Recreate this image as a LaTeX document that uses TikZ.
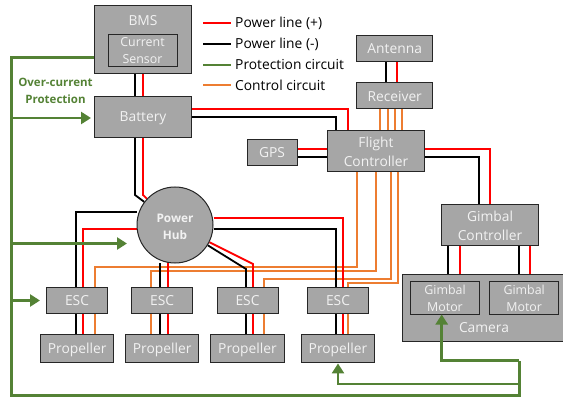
\documentclass[tikz,border=0pt]{standalone}
\usepackage{fontspec}
\setmainfont{Open Sans}
\usetikzlibrary{arrows.meta,backgrounds}
\definecolor{boxgray}{HTML}{A6A6A6}
\definecolor{boxedge}{HTML}{262626}
\definecolor{boxtext}{HTML}{F2F2F2}
\definecolor{pgreen}{HTML}{548235}
\definecolor{corange}{HTML}{ED7D31}
\tikzset{
  box/.style={draw=boxedge,fill=boxgray,line width=1pt,inner sep=0pt,align=center,text=boxtext,font=\fontsize{13.8}{19}\selectfont},
  smallbox/.style={box,font=\fontsize{12.4}{17}\selectfont},
  propbox/.style={box,minimum width=73.5pt,minimum height=28.5pt,text depth=0pt},
  escbox/.style={box,minimum height=26.5pt},
  posline/.style={draw=red,line width=1.8pt},
  negline/.style={draw=black,line width=1.8pt},
  ctlline/.style={draw=corange,line width=1.8pt},
  protline/.style={draw=pgreen,line width=2.5pt},
  protarrow/.style={draw=pgreen,line width=2.7pt,-{Triangle[length=10pt,width=12pt]}},
  legendtext/.style={anchor=west,inner sep=0pt,font=\fontsize{13.8}{14}\selectfont,text=black},
}
\begin{document}
\begin{tikzpicture}[x=1pt,y=-1pt,line join=miter]
\useasboundingbox (0,0) rectangle (563,401);
% boxes
\node[box,minimum width=97pt,minimum height=68pt] (bms) at (143,40) {};
\node[box,anchor=center,draw=none,fill=none] (bmst) at (143,21) {BMS};
\node[smallbox,minimum width=69pt,minimum height=32pt] (sensor) at (142.5,50.5) {Current\\Sensor};
\node[box,minimum width=97pt,minimum height=40.5pt,text depth=0pt] (battery) at (143,116.8) {Battery};
\node[box,minimum width=76pt,minimum height=26pt] (antenna) at (394.7,48.5) {Antenna};
\node[box,minimum width=76pt,minimum height=26pt,text depth=0pt] (receiver) at (394.7,96) {Receiver};
\node[box,minimum width=96.5pt,minimum height=41pt] (fc) at (376,151.5) {Flight\\Controller};
\node[box,minimum width=50pt,minimum height=26pt] (gps) at (272,153) {GPS};
\node[box,minimum width=96.5pt,minimum height=41pt] (gc) at (490,225.5) {Gimbal\\Controller};
\node[box,minimum width=162pt,minimum height=66pt] (camera) at (483.5,308) {};
\node[box,draw=none,fill=none] (camt) at (484,328) {Camera};
\node[smallbox,minimum width=69.4pt,minimum height=32pt] (gm1) at (445,298) {Gimbal\\Motor};
\node[smallbox,minimum width=69pt,minimum height=32pt] (gm2) at (524.2,298) {Gimbal\\Motor};
\node[box,circle,minimum size=76pt,font=\fontsize{11.8}{17}\selectfont\bfseries] (hub) at (175,225) {\rule{0pt}{12pt}Power\\Hub};
\node[escbox,minimum width=61pt] (esc1) at (77,300.7) {ESC};
\node[escbox,minimum width=60.5pt] (esc2) at (162.2,300.7) {ESC};
\node[escbox,minimum width=61pt] (esc3) at (247.5,300.7) {ESC};
\node[escbox,minimum width=61.4pt] (esc4) at (338,300.7) {ESC};
\node[propbox] (p1) at (77.2,348.7) {Propeller};
\node[propbox] (p2) at (162.2,348.7) {Propeller};
\node[propbox] (p3) at (247.5,348.7) {Propeller};
\node[propbox] (p4) at (338,348.7) {Propeller};
% legend
\coordinate (l1a) at (203,23); \coordinate (l1b) at (231,23);
\coordinate (l2a) at (203,44); \coordinate (l2b) at (231,44);
\coordinate (l3a) at (203,65); \coordinate (l3b) at (231,65);
\coordinate (l4a) at (203,85); \coordinate (l4b) at (231,85);
\draw[posline] (l1a) -- (l1b);
\draw[negline] (l2a) -- (l2b);
\draw[protline,line width=1.8pt] (l3a) -- (l3b);
\draw[ctlline] (l4a) -- (l4b);
\node[legendtext] (t1) at (235,23.5) {Power line (+)};
\node[legendtext] (t2) at (235,44) {Power line (-)};
\node[legendtext] (t3) at (235,64.5) {Protection circuit};
\node[legendtext] (t4) at (235,85) {Control circuit};
\node[inner sep=0pt,align=center,text=pgreen,font=\fontsize{11.5}{17}\selectfont\bfseries] (ocp) at (55.5,90.5) {Over-current\\Protection};
% connectors behind boxes
\begin{scope}[on background layer]
\draw[negline] (bms.south -| 135,0) -- (battery.north -| 135,0);
\draw[posline] (bms.south -| 143,0) -- (battery.north -| 143,0);
\draw[negline] (battery.south -| 135,0) -- (135,195) -- (hub);
\draw[posline] (battery.south -| 143,0) -- (143,195) -- (hub);
\draw[posline] (battery.east |- 0,109) -- (348,109) -- (fc.north -| 348,0);
\draw[negline] (battery.east |- 0,117) -- (336,117) -- (fc.north -| 336,0);
\draw[posline] (gps.east |- 0,149) -- (fc.west |- 0,149);
\draw[negline] (gps.east |- 0,157) -- (fc.west |- 0,157);
\draw[negline] (antenna.south -| 386,0) -- (receiver.north -| 386,0);
\draw[posline] (antenna.south -| 397,0) -- (receiver.north -| 397,0);
\foreach \x in {380,388,395,402}
  \draw[ctlline] (receiver.south -| \x,0) -- (fc.north -| \x,0);
\draw[posline] (fc.east |- 0,149) -- (490,149) -- (gc.north -| 490,0);
\draw[negline] (fc.east |- 0,157) -- (479,157) -- (gc.north -| 479,0);
\draw[negline] (gc.south -| 448,0) -- (camera.north -| 448,0);
\draw[posline] (gc.south -| 460,0) -- (camera.north -| 460,0);
\draw[negline] (gc.south -| 519,0) -- (camera.north -| 519,0);
\draw[posline] (gc.south -| 530,0) -- (camera.north -| 530,0);
% control lines
\draw[ctlline] (fc.south -| 357,0) -- (357,267) -- (95,267) -- (esc1.north -| 95,0);
\draw[ctlline] (fc.south -| 376,0) -- (376,271) -- (151,271) -- (esc2.north -| 151,0);
\draw[ctlline] (fc.south -| 391,0) -- (391,279) -- (264,279) -- (esc3.north -| 264,0);
\draw[ctlline] (fc.south -| 398,0) -- (398,283) -- (348,283) -- (esc4.north -| 348,0);
% hub power
\draw[negline] (hub.west |- 0,212) -- (76,212) -- (esc1.north -| 76,0);
\draw[posline] (hub.west |- 0,229) -- (83,229) -- (esc1.north -| 83,0);
\draw[negline] (hub.south -| 160,0) -- (esc2.north -| 160,0);
\draw[posline] (hub.south -| 168,0) -- (esc2.north -| 168,0);
\draw[posline] (hub) -- (253,264) -- (esc3.north -| 253,0);
\draw[negline] (hub) -- (246,269) -- (esc3.north -| 246,0);
\draw[posline] (hub.east |- 0,218) -- (343,218) -- (esc4.north -| 343,0);
\draw[negline] (hub.east |- 0,229) -- (336,229) -- (esc4.north -| 336,0);
% esc to propeller
\draw[negline] (esc1.south -| 76,0) -- (p1.north -| 76,0);
\draw[posline] (esc1.south -| 83,0) -- (p1.north -| 83,0);
\draw[ctlline] (esc1.south -| 95,0) -- (p1.north -| 95,0);
\draw[ctlline] (esc2.south -| 151,0) -- (p2.north -| 151,0);
\draw[negline] (esc2.south -| 160,0) -- (p2.north -| 160,0);
\draw[posline] (esc2.south -| 168,0) -- (p2.north -| 168,0);
\draw[negline] (esc3.south -| 246,0) -- (p3.north -| 246,0);
\draw[posline] (esc3.south -| 253,0) -- (p3.north -| 253,0);
\draw[ctlline] (esc3.south -| 264,0) -- (p3.north -| 264,0);
\draw[negline] (esc4.south -| 336,0) -- (p4.north -| 336,0);
\draw[posline] (esc4.south -| 343,0) -- (p4.north -| 343,0);
\draw[ctlline] (esc4.south -| 348,0) -- (p4.north -| 348,0);
\end{scope}
% protection circuit
\coordinate (busb) at (11.5,395.5);
\coordinate (busr) at (519.3,395.5);
\coordinate (hubtip) at (127,243.5);
\coordinate (esctip) at (40,300.5);
\draw[protline] (bms.west |- 0,57.5) -- (11.5,57.5) -- (busb) -- (busr) -- (519.3,360.5);
\draw[protarrow,shorten >=3pt] (11.5,118) -- (battery.west |- 0,118);
\draw[protarrow] (11.5,243.5) -- (hubtip);
\draw[protarrow] (11.5,300.5) -- (esctip);
\draw[protarrow] (519.3,360.5) -- (441.7,360.5) -- (gm1.south -| 441.7,0);
\draw[protarrow] (519.3,384) -- (338,384) -- (p4.south -| 338,0);
\end{tikzpicture}
\end{document}
